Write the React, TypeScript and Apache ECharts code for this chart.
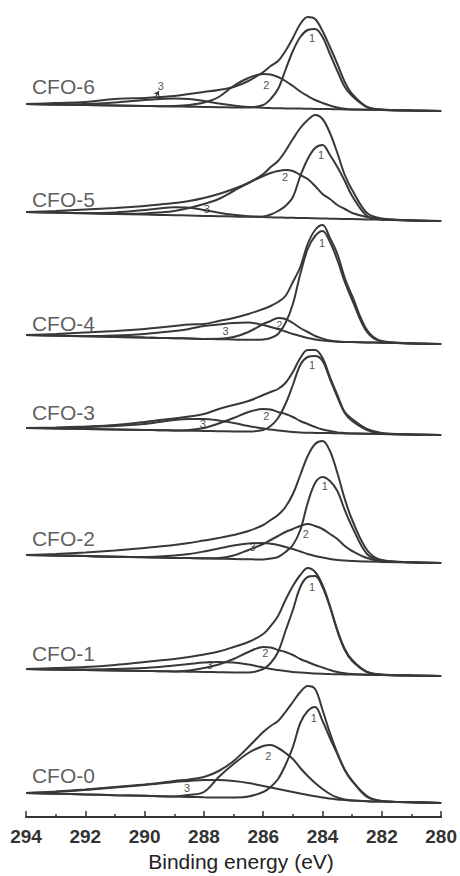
import React, { useEffect, useRef } from "react";
import * as echarts from "echarts";

// Binding energy sample points (eV)
const energies = [294, 293, 292, 291, 290, 289.5, 289, 288.5, 288, 287.5, 287, 286.5, 286, 285.75, 285.5, 285.25, 285, 284.75, 284.5, 284.25, 284, 283.75, 283.5, 283.25, 283, 282.5, 282, 281, 280];
const tickValues = [294, 292, 290, 288, 286, 284, 282, 280];

const sampleNames = ["CFO-6", "CFO-5", "CFO-4", "CFO-3", "CFO-2", "CFO-1", "CFO-0"];
// vertical stacking offsets (a.u.)
const stackOffsets = [706, 596, 473, 382, 254, 141, 14];

// CFO-6
const env6 = [7, 8, 9, 12, 13, 14, 15, 17, 19, 21, 24, 30, 39, 45, 50, 60, 73, 87, 94, 92, 80, 64, 47, 29, 17, 4, 1.5, 0.5, 0];
const c1_6 = [7, 6.5, 6, 5.5, 5, 4.8, 4.5, 4.3, 4, 3.8, 3.5, 3.6, 6, 12, 22, 41, 60, 74, 81, 82, 74, 57, 40, 24, 15, 4, 1.2, 0.5, 0];
const c2_6 = [7, 6.5, 6, 5.5, 5, 4.8, 5, 6, 8.5, 14, 25, 33, 37, 36.5, 34, 30, 25, 19.5, 15, 11, 8, 5.5, 3.5, 2.2, 1.5, 1.3, 1, 0.5, 0];
const c3_6 = [7, 6.6, 7, 8.5, 11, 12, 12.5, 12, 10, 7.5, 5.5, 4, 3.2, 2.9, 2.7, 2.6, 2.5, 2.4, 2.2, 2.1, 2, 1.9, 1.7, 1.6, 1.5, 1.3, 1, 0.5, 0];
// CFO-5
const env5 = [9, 10, 11.5, 13, 15, 16.5, 18, 20, 23, 27, 32, 38, 47, 54, 60, 70, 82, 93, 101, 106, 102, 88, 68, 46, 31, 8, 2.5, 0.8, 0];
const c1_5 = [9, 8.4, 7.7, 7.1, 6.4, 6.1, 5.8, 5.5, 5.1, 4.8, 4.5, 4.2, 4.5, 6.5, 10, 15, 24, 45, 62, 73, 76, 66, 54, 40, 25, 5, 1.8, 0.6, 0];
const c2_5 = [9, 8.4, 7.7, 7.1, 7.5, 8.5, 10, 13, 17, 22, 30, 38, 45, 48, 50, 51, 50, 46, 42, 35, 27, 22, 16, 12, 8, 4, 1.8, 0.6, 0];
const c3_5 = [9, 8.4, 8, 8.6, 11, 12.6, 13.7, 13.3, 11, 8.3, 6.2, 4.8, 3.9, 3.7, 3.5, 3.3, 3.2, 3, 2.9, 2.7, 2.5, 2.3, 2.2, 2, 1.9, 1.6, 1.3, 0.6, 0];
// CFO-4
const env4 = [9, 10, 11.5, 13, 15, 16.5, 18, 19.5, 20, 23, 26, 30, 35, 38, 42, 48, 62, 77, 100, 114, 119, 106, 90, 66, 48, 14, 3, 0.8, 0];
const c1_4 = [9, 8.4, 7.7, 7.1, 6.4, 6.1, 5.8, 5.5, 5.1, 4.8, 4.5, 4.2, 4.5, 6, 10, 21, 40, 70, 95, 108, 113, 102, 84, 62, 44, 12, 2.5, 0.7, 0];
const c2_4 = [9, 8.4, 7.7, 7.1, 6.4, 6.1, 5.8, 5.5, 5.1, 5.2, 7, 12, 20, 23, 26, 25, 21, 16, 12, 8, 5.5, 3.5, 2.5, 2, 1.9, 1.6, 1.3, 0.6, 0];
const c3_4 = [9, 8.4, 8, 8.5, 10, 11.5, 13, 15, 18, 19.5, 21, 21.5, 19, 17, 15, 12.5, 10, 8, 6, 4.5, 3.5, 2.8, 2.2, 2, 1.9, 1.6, 1.3, 0.6, 0];
// CFO-3
const env3 = [7, 7.5, 8.5, 10, 13, 15, 16.5, 18.5, 21, 26, 30, 34, 40, 43, 46, 52, 63, 77, 85, 85, 77, 58, 40, 23, 16, 6, 2, 0.6, 0];
const c1_3 = [7, 6.5, 6, 5.5, 5, 4.8, 4.5, 4.3, 4, 3.8, 3.5, 3.5, 5, 9, 17, 31, 50, 70, 78, 79, 74, 56, 38, 22, 14, 5, 1.5, 0.5, 0];
const c2_3 = [7, 6.5, 6, 5.5, 5, 4.8, 4.5, 5, 7, 11.5, 17, 23, 26, 25.5, 23, 21, 18, 14, 11, 8, 5.5, 4, 2.5, 2, 1.5, 1.3, 1, 0.5, 0];
const c3_3 = [7, 7, 8, 9, 11, 13, 15, 16, 16, 14.5, 12, 9, 6.5, 5.5, 4.5, 3.7, 3, 2.5, 2.2, 2.1, 2, 1.9, 1.7, 1.6, 1.5, 1.3, 1, 0.5, 0];
// CFO-2
const env2 = [8, 9, 10.5, 12.5, 15, 16.5, 18, 20, 22.5, 25, 28, 32, 38, 43, 48, 56, 69, 88, 107, 119, 122, 112, 90, 64, 43, 13, 3, 0.8, 0];
const c1_2 = [8, 7.4, 6.9, 6.3, 5.7, 5.4, 5.1, 4.9, 4.6, 4.3, 4, 3.7, 3.5, 4.5, 6, 11, 18, 33, 60, 80, 86, 82, 72, 53, 36, 9, 2.5, 0.7, 0];
const c2_2 = [8, 7.4, 6.9, 6.3, 5.7, 5.4, 5.1, 4.9, 4.7, 5, 7.5, 13, 19, 23, 27, 31, 34, 37, 39, 37, 34, 29, 24, 17, 12, 5, 2, 0.7, 0];
const c3_2 = [8, 7.4, 6.9, 6.3, 6, 6.5, 7.5, 9, 11.5, 14.5, 17.5, 19.5, 20, 19.3, 18, 16, 14, 11.5, 9, 7, 5.5, 4, 3, 2.4, 2, 1.4, 1.1, 0.6, 0];
// CFO-1
const env1 = [7, 8, 9, 11, 14, 15.5, 17, 19, 21.5, 24.5, 29, 34, 42, 50, 60, 76, 90, 101, 108, 104, 91, 70, 46, 27, 16, 4, 1.5, 0.5, 0];
const c1_1 = [7, 6.5, 6, 5.5, 5, 4.8, 4.5, 4.3, 4, 3.8, 3.5, 3.5, 7, 13, 24, 45, 66, 89, 99, 100, 89, 69, 45, 26, 15, 4, 1.3, 0.5, 0];
const c2_1 = [7, 6.5, 6, 5.5, 5, 4.8, 4.5, 5.5, 8, 11.5, 17, 24, 29, 28.5, 26, 24, 21, 17, 14, 11, 8.5, 6, 4, 2.7, 2, 1.3, 1, 0.5, 0];
const c3_1 = [7, 6.5, 6.5, 7, 8, 9, 10.5, 12, 13.5, 14, 13.5, 11.5, 8.5, 7, 6, 5, 4, 3.4, 3, 2.5, 2.2, 1.9, 1.7, 1.6, 1.5, 1.3, 1, 0.5, 0];
// CFO-0
const env0 = [10, 11.5, 13.5, 16, 18.5, 20, 22, 23.5, 26, 32, 42, 56, 71, 77, 82, 91, 101, 111, 117, 114, 93, 70, 50, 33, 22, 6, 2, 0.7, 0];
const c1_0 = [10, 9.3, 8.6, 7.8, 7.2, 6.8, 6.4, 6.1, 5.7, 5.4, 5.5, 6.5, 11, 16, 24, 38, 56, 80, 92, 96, 82, 65, 49, 33, 22, 7, 2, 0.7, 0];
const c2_0 = [10, 9.3, 8.6, 7.8, 7.2, 6.8, 6.5, 8, 11, 26, 39, 50, 57, 58, 55, 50, 44, 35, 27, 20, 14, 9, 5.5, 3.5, 2.5, 1.8, 1.4, 0.7, 0];
const c3_0 = [10, 11, 13, 15.5, 18, 19.5, 21, 22, 23, 23, 22, 20, 17, 15.5, 14, 12.5, 11, 9.5, 8, 6.7, 5.5, 4.5, 3.5, 3, 2.5, 1.8, 1.4, 0.7, 0];

const envelopes = [env6, env5, env4, env3, env2, env1, env0];
const component1 = [c1_6, c1_5, c1_4, c1_3, c1_2, c1_1, c1_0];
const component2 = [c2_6, c2_5, c2_4, c2_3, c2_2, c2_1, c2_0];
const component3 = [c3_6, c3_5, c3_4, c3_3, c3_2, c3_1, c3_0];

// peak-number annotation anchors [energy, height above stack offset]
const peakTags = ["1", "2", "3"];
const peakTagAnchors = [
  [[284.35, 73], [285.9, 26], [289.45, 25]],
  [[284.05, 66], [285.26, 44], [287.9, 12]],
  [[284.02, 101], [285.46, 19], [287.27, 13]],
  [[284.35, 70], [285.9, 19], [288.04, 11]],
  [[283.92, 77], [284.56, 29], [286.36, 16]],
  [[284.35, 89], [285.93, 23], [287.8, 11]],
  [[284.29, 85], [285.83, 47], [288.57, 15]],
];
const nameLift = [25, 22, 21, 23, 25, 23, 28];
const nameEnergy = 293.8;

const LINE = "#383838";
const TEXT = "#222";
const FONT = "'Liberation Sans', Arial, Helvetica, sans-serif";

export default function App() {
  const ref = useRef<HTMLDivElement>(null);
  useEffect(() => {
    if (!ref.current) return;
    const chart = echarts.init(ref.current, undefined, { renderer: "svg" });
    const series: any[] = [];
    sampleNames.forEach((name, s) => {
      const off = stackOffsets[s];
      const curves = [component3[s], component2[s], component1[s], envelopes[s]];
      curves.forEach((arr, k) => {
        series.push({
          type: "line",
          name: `${name}-${k}`,
          data: energies.map((e, i) => [e, off + arr[i]]),
          smooth: 0.35,
          showSymbol: false,
          symbol: "none",
          itemStyle: { color: LINE },
          lineStyle: { color: LINE, width: 2 },
          silent: true,
          z: 2,
        });
      });
      series.push({
        type: "scatter",
        data: peakTagAnchors[s].map((p, j) => [p[0], off + p[1], peakTags[j]]),
        symbolSize: 0,
        itemStyle: { color: TEXT },
        silent: true,
        z: 5,
        label: {
          show: true,
          position: [0, 0],
          align: "center",
          verticalAlign: "middle",
          formatter: (p: any) => p.data[2],
          fontSize: 11,
          color: TEXT,
          textBorderWidth: 0,
          fontFamily: FONT,
        },
      });
      series.push({
        type: "scatter",
        data: [[nameEnergy, off + nameLift[s], name]],
        symbolSize: 0,
        itemStyle: { color: "#333" },
        silent: true,
        z: 5,
        label: {
          show: true,
          position: [0, 0],
          align: "left",
          verticalAlign: "middle",
          formatter: (p: any) => p.data[2],
          fontSize: 21,
          color: "#333",
          textBorderWidth: 0,
          fontFamily: FONT,
        },
      });
    });
    // small arrow pointing to component 3 of CFO-6
    series.push({
      type: "lines",
      coordinateSystem: "cartesian2d",
      data: [{ coords: [[289.65, stackOffsets[0] + 13], [289.52, stackOffsets[0] + 20]] }],
      symbol: ["none", "arrow"],
      symbolSize: 5,
      lineStyle: { color: LINE, width: 1.2, opacity: 1 },
      silent: true,
      z: 5,
    });

    chart.setOption({
      animation: false,
      backgroundColor: "#fff",
      grid: { left: 26, right: 17, top: 0, bottom: 59 },
      xAxis: {
        type: "value",
        min: 280,
        max: 294,
        interval: 2,
        inverse: true,
        splitLine: { show: false },
        axisLine: { show: true, onZero: false, lineStyle: { color: "#333", width: 2 } },
        axisTick: { show: true, inside: true, length: 6, lineStyle: { color: "#333", width: 1.5 } },
        minorTick: { show: true, splitNumber: 2, length: 3, lineStyle: { color: "#333", width: 1.5 } },
        axisLabel: {
          show: true,
          margin: 10,
          fontSize: 19,
          fontWeight: "bold",
          color: "#333",
          fontFamily: FONT,
          formatter: (v: number) => (tickValues.includes(v) ? String(v) : ""),
          showMinLabel: true,
          showMaxLabel: true,
        },
      },
      yAxis: { type: "value", min: 0, max: 817, show: false },
      graphic: [
        {
          type: "text",
          x: 241,
          y: 861,
          style: {
            text: "Binding energy (eV)",
            fontSize: 21,
            fontFamily: FONT,
            fill: TEXT,
            align: "center",
            verticalAlign: "middle",
          },
        },
      ],
      series,
    });
    return () => chart.dispose();
  }, []);
  return (
    <div
      ref={ref}
      style={{ position: "fixed", left: 0, top: 0, width: 460, height: 876, background: "#fff" }}
    />
  );
}
